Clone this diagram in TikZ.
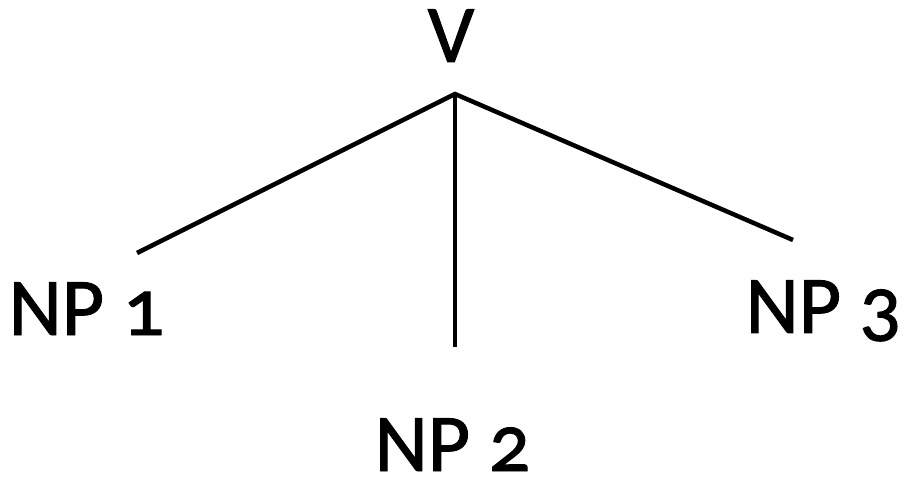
\documentclass[tikz,border=0pt]{standalone}
\usepackage{fontspec}
\setmainfont{Carlito}[Numbers=OldStyle]
\newfontfamily\lblfont{Carlito}[Numbers=OldStyle,FakeBold=1.2]
\begin{document}
\begin{tikzpicture}[x=1pt,y=1pt,
  lbl/.style={inner sep=0pt,anchor=base,text depth=0pt,font=\fontsize{82}{82}\lblfont},
  branch/.style={line width=4.5pt,line cap=butt}]
\useasboundingbox (0,0) rectangle (905,477);
\node[lbl] (v) at (451,415) {V};
\node[lbl] (np1) at (86.5,142) {NP 1};
\node[lbl] (np2) at (452.5,6) {NP 2};
\node[lbl] (np3) at (823.5,144) {NP 3};
\coordinate (apex) at (455,383);
\coordinate (e1) at (137,224);
\coordinate (e2) at (455,130);
\coordinate (e3) at (793,237);
\draw[branch] (e1) -- (apex) -- (e3);
\draw[branch] (apex) -- (e2);
\end{tikzpicture}
\end{document}
